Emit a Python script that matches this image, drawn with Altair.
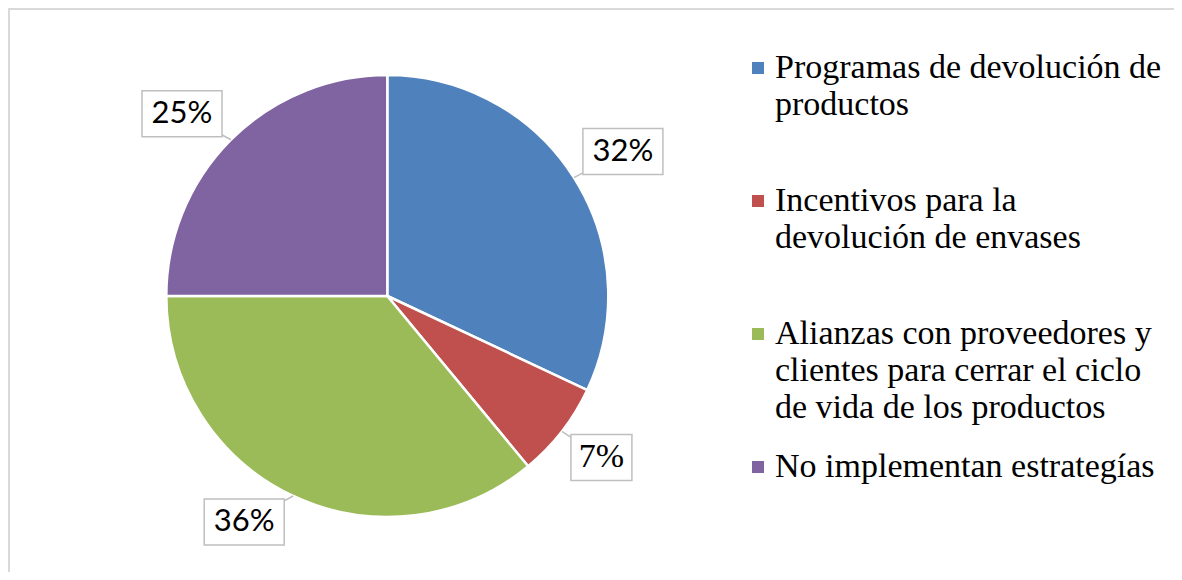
import altair as alt
import pandas as pd

categories = [
    "Programas de devolución de productos",
    "Incentivos para la devolución de envases",
    "Alianzas con proveedores y clientes para cerrar el ciclo de vida de los productos",
    "No implementan estrategías",
]
values = [32, 7, 36, 25]
labels = ["32%", "7%", "36%", "25%"]
legend_lines = [
    ["Programas de devolución de", "productos"],
    ["Incentivos para la", "devolución de envases"],
    ["Alianzas con proveedores y", "clientes para cerrar el ciclo", "de vida de los productos"],
    ["No implementan estrategías"],
]
colors = ["#4F81BD", "#C0504D", "#9BBB59", "#8064A2"]

W, H = 1166, 564
CX, CY, R = 379.3, 288, 221

pie_df = pd.DataFrame({"cat": categories, "value": values, "label": labels, "idx": list(range(len(categories)))})
leg_df = pd.DataFrame([
    {"cat": c, "idx": i, "line": j, "text": t}
    for i, (c, lines) in enumerate(zip(categories, legend_lines))
    for j, t in enumerate(lines)
])

color = alt.Color("cat:N", scale=alt.Scale(domain=categories, range=colors), legend=None)

base = alt.Chart(pie_df)

pie = base.mark_arc(outerRadius=R, stroke="white", strokeWidth=2.5).encode(
    theta=alt.Theta("value:Q", stack=True),
    order=alt.Order("idx:Q"),
    color=color,
    x=alt.value(CX),
    y=alt.value(CY),
)

geo = base.transform_window(
    cum="sum(value)", sort=[alt.SortField("idx")], frame=[None, 0]
).transform_joinaggregate(total="sum(value)").transform_calculate(
    ang="2*PI*(datum.cum - datum.value/2)/datum.total",
).transform_calculate(
    ex=f"{CX} + {R}*sin(datum.ang)",
    ey=f"{CY} - {R}*cos(datum.ang)",
    bw="length(datum.label) > 2 ? 80 : 61",
).transform_calculate(
    lx="datum.ex + (sin(datum.ang) >= 0 ? 1 : -1)*(datum.bw/2 + 9)",
    ly="datum.ey + (cos(datum.ang) >= 0 ? -1 : 1)*(46/2 + 3)",
).transform_calculate(
    x1="datum.lx - datum.bw/2",
    x2="datum.lx + datum.bw/2",
    y1="datum.ly - 23",
    y2="datum.ly + 23",
)

def X(f):
    return alt.X(f, scale=None, axis=None)

def Y(f):
    return alt.Y(f, scale=None, axis=None)

leaders = geo.mark_rule(color="#BFBFBF", strokeWidth=1.5).encode(
    x=X("ex:Q"), y=Y("ey:Q"), x2="lx:Q", y2="ly:Q"
)
boxes = geo.mark_rect(fill="white", stroke="#BFBFBF", strokeWidth=1.5).encode(
    x=X("x1:Q"), x2="x2:Q", y=Y("y1:Q"), y2="y2:Q"
)
txt_sans = geo.transform_filter(alt.FieldGTPredicate(field="bw", gt=70)).mark_text(
    font="Lato", fontSize=31, align="center", baseline="middle", color="#000000"
).encode(x=X("lx:Q"), y=Y("ly:Q"), text="label:N")
txt_serif = geo.transform_filter(alt.FieldLTPredicate(field="bw", lt=70)).mark_text(
    font="Liberation Serif", fontSize=34, align="center", baseline="middle", color="#000000"
).encode(x=X("lx:Q"), y=Y("ly:Q"), text="label:N")

leg = alt.Chart(leg_df).transform_calculate(
    ty="70.3 + 133*datum.idx + 36.7*datum.line"
).transform_calculate(my="datum.ty - 10.3")

leg_text = leg.mark_text(
    font="Liberation Serif", fontSize=34, align="left", baseline="alphabetic", color="#000000"
).encode(x=alt.value(767), y=Y("ty:Q"), text="text:N")
leg_marks = leg.transform_filter("datum.line == 0").mark_square(size=144, opacity=1).encode(
    x=alt.value(750), y=Y("my:Q"), color=color
)

border_df = pd.DataFrame({"k": [0]})
border = alt.Chart(border_df).mark_rect(
    fill="transparent", stroke="#D9D9D9", strokeWidth=2
).encode(
    x=alt.value(1), x2=alt.value(W + 40), y=alt.value(1), y2=alt.value(H + 40)
)

chart = alt.layer(
    border, pie, leaders, boxes, txt_sans, txt_serif, leg_marks, leg_text
).properties(
    width=W, height=H, padding=0, autosize=alt.AutoSizeParams(type="none"), background="white"
).configure_view(strokeOpacity=0, strokeWidth=0, fill="white")

chart.save("out.html", embed_options={"renderer": "svg", "actions": False})
